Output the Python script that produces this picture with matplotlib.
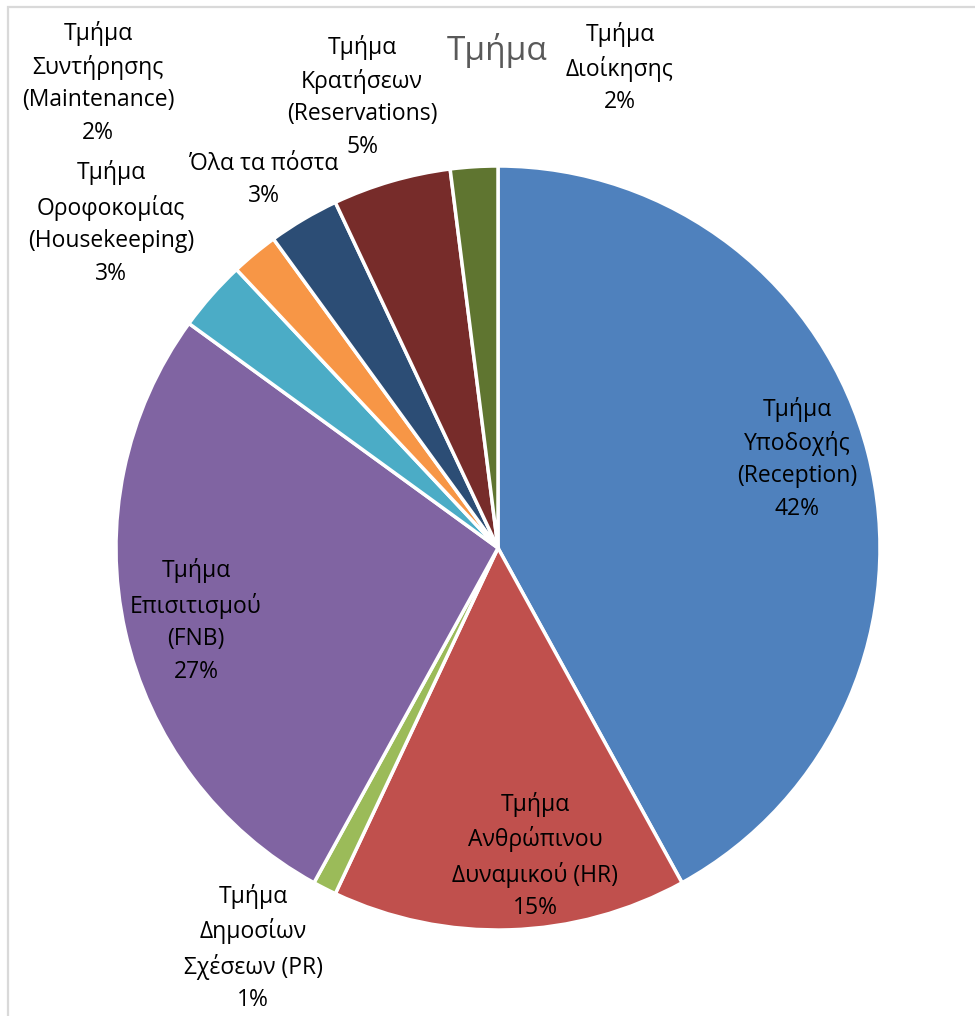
import matplotlib.pyplot as plt
from matplotlib.patches import Rectangle

plt.rcParams['font.family'] = ['Open Sans', 'DejaVu Sans']

# Κατανομή ανά τμήμα (%), με φορά ρολογιού από την κορυφή
departments = [
    "Τμήμα\nΥποδοχής\n(Reception)",
    "Τμήμα\nΑνθρώπινου\nΔυναμικού (HR)",
    "Τμήμα\nΔημοσίων\nΣχέσεων (PR)",
    "Τμήμα\nΕπισιτισμού\n(FNB)",
    "Τμήμα\nΟροφοκομίας\n(Housekeeping)",
    "Τμήμα\nΣυντήρησης\n(Maintenance)",
    "Όλα τα πόστα",
    "Τμήμα\nΚρατήσεων\n(Reservations)",
    "Τμήμα\nΔιοίκησης",
]
shares = [42, 15, 1, 27, 3, 2, 3, 5, 2]
colors = ["#4F81BD", "#C0504D", "#9BBB59", "#8064A2", "#4BACC6",
          "#F79646", "#2C4D75", "#772C2A", "#5F7530"]

# θέσεις ετικετών σε pixel (x, y από πάνω)
label_pos = [(797, 459), (535, 856), (253, 948), (196, 621), (111, 223),
             (98, 83), (264, 180), (362, 97), (620, 68)]

W, H = 975, 1016
fig = plt.figure(figsize=(W / 100, H / 100), dpi=100)
ax = fig.add_axes([0, 0, 1, 1])

ax.pie(shares, colors=colors, startangle=90, counterclock=False,
       center=(498, H - 548), radius=382,
       wedgeprops=dict(edgecolor="white", linewidth=2.5))

# το pie αλλάζει τα όρια, τα ξαναβάζουμε σε pixel
ax.set_xlim(0, W)
ax.set_ylim(0, H)
ax.set_aspect('equal')
ax.axis('off')

# πλαίσιο γραφήματος
ax.add_patch(Rectangle((7.5, -20), W + 40, H - 6.5 + 20, fill=False,
                       edgecolor="#D9D9D9", linewidth=1.6))

for name, val, (px, py) in zip(departments, shares, label_pos):
    ax.text(px, H - py, f"{name}\n{val}%", ha='center', va='center',
            fontsize=16.5, color="black", linespacing=1.47)

ax.text(497, H - 50, "Τμήμα", ha='center', va='center',
        fontsize=24, color="#595959")

plt.savefig("out.png", dpi=100)
plt.close()
